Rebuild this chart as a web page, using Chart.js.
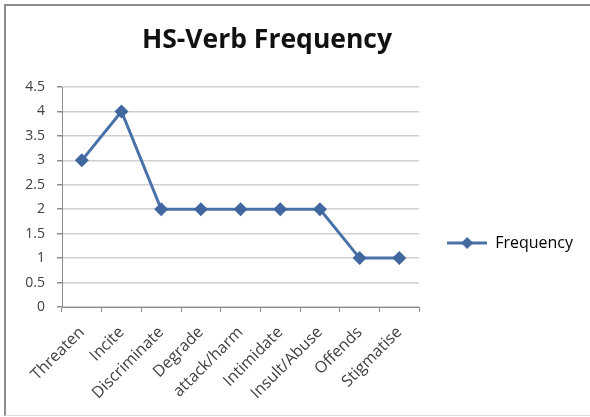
<!DOCTYPE html>
<html>
<head>
<meta charset="utf-8">
<script src="https://cdn.jsdelivr.net/npm/chart.js@4/dist/chart.umd.min.js"></script>
<style>
  html, body { margin: 0; padding: 0; background: #fff; }
  #wrap { position: relative; width: 590px; height: 417px; overflow: hidden; }
  #frame {
    position: absolute; left: 4px; top: 4px; width: 600px; height: 412px;
    border-left: 2px solid #8c8c8c; border-top: 2px solid #8c8c8c;
    border-bottom: 1px solid #e0e0e0; box-sizing: border-box;
  }
  #title {
    position: absolute; left: 0; top: 23px; width: 534px; text-align: center;
    font: bold 26.5px "Open Sans", sans-serif; line-height: 30px; color: #111;
  }
  canvas { position: absolute; left: 0; top: 0; }
</style>
</head>
<body>
<div id="wrap">
  <div id="frame"></div>
  <canvas id="chart" width="590" height="417"></canvas>
  <div id="title">HS-Verb Frequency</div>
</div>
<script>
// HS verb categories and how often each occurs
const categories = ['Threaten', 'Incite', 'Discriminate', 'Degrade', 'attack/harm',
                    'Intimidate', 'Insult/Abuse', 'Offends', 'Stigmatise'];
const frequency = [3, 4, 2, 2, 2, 2, 2, 1, 1];
const seriesName = 'Frequency';

const lineColor = '#4a72aa';
const markerColor = '#41679f';
const textColor = '#404040';
const font = 'Open Sans';

// legend swatch: short line with a diamond in the middle
function legendSwatch() {
  const c = document.createElement('canvas');
  c.width = 40; c.height = 14;
  const g = c.getContext('2d');
  g.strokeStyle = lineColor; g.lineWidth = 3;
  g.beginPath(); g.moveTo(0, 7); g.lineTo(40, 7); g.stroke();
  g.fillStyle = markerColor;
  g.beginPath(); g.moveTo(20, 1); g.lineTo(26, 7); g.lineTo(20, 13); g.lineTo(14, 7); g.closePath(); g.fill();
  return c;
}

function draw() {
  const swatch = legendSwatch();
  new Chart(document.getElementById('chart'), {
    type: 'line',
    data: {
      labels: categories,
      datasets: [{
        label: seriesName,
        data: frequency,
        borderColor: lineColor,
        borderWidth: 3,
        backgroundColor: markerColor,
        pointStyle: 'rectRot',
        pointRadius: 7,
        pointBorderWidth: 0,
        pointBackgroundColor: markerColor,
        tension: 0,
        fill: false
      }]
    },
    options: {
      responsive: false,
      animation: false,
      layout: { padding: { top: 87, bottom: 18, left: 0, right: 7 } },
      plugins: {
        title: { display: false },
        tooltip: { enabled: false },
        legend: {
          position: 'right',
          maxWidth: 220,
          labels: {
            usePointStyle: true,
            pointStyle: swatch,
            pointStyleWidth: 40,
            padding: 28,
            color: textColor,
            font: { family: font, size: 16 },
            generateLabels: () => [{
              text: seriesName, pointStyle: swatch, fillStyle: markerColor,
              strokeStyle: lineColor, lineWidth: 0, datasetIndex: 0, hidden: false
            }]
          }
        }
      },
      scales: {
        x: {
          offset: true,
          grid: { display: true, drawOnChartArea: false, drawTicks: true, offset: true, tickLength: 5, color: '#8c8c8c' },
          border: { color: '#8c8c8c', width: 1 },
          ticks: {
            autoSkip: false, maxRotation: 45, minRotation: 45, padding: 11,
            color: textColor, font: { family: font, size: 16 }
          },
          afterFit: (scale) => { scale.height = 92; }
        },
        y: {
          min: 0, max: 4.5,
          grid: { color: '#d0d0d0', lineWidth: 1.5, tickLength: 5, tickColor: '#8c8c8c' },
          border: { color: '#8c8c8c', width: 1 },
          ticks: {
            stepSize: 0.5, padding: 12, color: textColor,
            font: { family: font, size: 14 },
            callback: (v) => String(v)
          },
          afterFit: (scale) => { scale.width = 62; }
        }
      }
    }
  });
}

// make sure the text font is ready before the legend and axes measure their labels
Promise.all([
  document.fonts.load('16px "' + font + '"'),
  document.fonts.load('bold 26px "' + font + '"')
]).then(draw, draw);
</script>
</body>
</html>
